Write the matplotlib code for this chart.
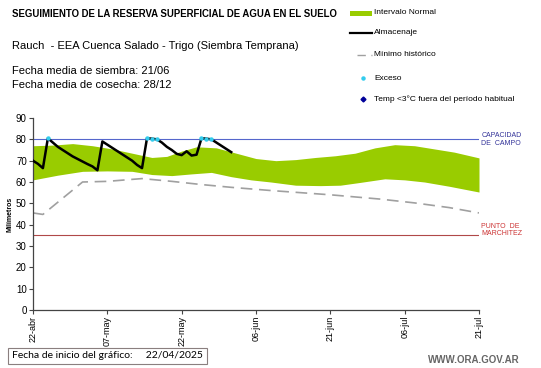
import numpy as np
import matplotlib.pyplot as plt
from matplotlib.lines import Line2D
from matplotlib.patches import Rectangle

plt.rcParams['font.family'] = ['Liberation Sans', 'DejaVu Sans']

# days counted from 22/04/2025
tick_days = [0, 15, 30, 45, 60, 75, 90]
tick_labels = ['22-abr', '07-may', '22-may', '06-jun', '21-jun', '06-jul', '21-jul']

# Almacenaje (daily)
alm_days = list(range(0, 41))
alm_vals = [70, 68.5, 66.5, 80.5, 78.5, 76.5, 75, 73.5, 72, 70.8,
            69.6, 68.4, 67.3, 65.5, 79, 77.5, 76, 74.5, 73, 71.5,
            70, 68, 66.5, 80.5, 80.3, 80, 78.5, 76.5, 75, 73.2,
            72.6, 74.4, 72.4, 72.8, 80.5, 80.3, 80, 78.5, 77, 75.5, 74]

# Exceso
exc_days = [3, 23, 24, 25, 34, 35, 36]
exc_vals = [80.5, 80.5, 80.3, 80.2, 80.5, 80.3, 80.2]

# Intervalo normal
band_days_up = [0, 4, 8, 12, 16, 20, 24, 27, 30, 33, 37, 41, 45, 49, 53, 57,
                61, 65, 69, 73, 77, 81, 85, 90]
band_up = [77, 77.3, 78, 77, 75.5, 73.5, 71.5, 72, 74.5, 76.5, 76, 73.5, 71,
           70, 70.5, 71.5, 72.3, 73.5, 76, 77.5, 77, 75.5, 74, 71.3]
band_days_lo = [0, 5, 10, 15, 20, 24, 28, 32, 36, 40, 44, 48, 53, 58, 62, 66,
                71, 75, 79, 84, 90]
band_lo = [61, 63.2, 65, 65.2, 65, 63.5, 63, 63.8, 64.5, 62.5, 61, 60, 58.5,
           58.3, 58.5, 59.8, 61.5, 61, 60, 58, 55.3]

# Minimo historico
min_days = [0, 2, 10, 15, 22, 28, 34, 40, 48, 60, 70, 77, 84, 90]
min_vals = [45.5, 44.8, 60, 60.3, 61.6, 60.3, 58.8, 57.5, 56, 54, 52, 50.2, 48, 45.5]

cap_campo = 80
marchitez = 35

W, H = 541, 368
fig = plt.figure(figsize=(W / 100, H / 100), dpi=100)
ax = fig.add_axes([33 / W, 1 - 310 / H, (479 - 33) / W, (310 - 118) / H])

d = np.arange(0, 91)
up = np.interp(d, band_days_up, band_up)
lo = np.interp(d, band_days_lo, band_lo)
ax.fill_between(d, lo, up, color='#99cc00', lw=0, zorder=1)
ax.plot(min_days, min_vals, color='#a0a0a0', lw=1.2, dashes=(7, 4), zorder=2)
ax.axhline(cap_campo, color='#5566cc', lw=0.8, zorder=2)
ax.axhline(marchitez, color='#b04848', lw=0.8, zorder=2)
ax.plot(alm_days, alm_vals, color='black', lw=1.8, zorder=3)
ax.plot(exc_days, exc_vals, ls='none', marker='o', ms=2.2, color='#33ccee', zorder=4)

ax.set_xlim(0, 90)
ax.set_ylim(0, 90)
ax.set_yticks(range(0, 91, 10))
ax.set_xticks(tick_days)
ax.set_xticklabels(tick_labels, rotation=90)
ax.tick_params(axis='y', labelsize=7, length=3, width=0.8, color='#444444', pad=1.5)
ax.tick_params(axis='x', labelsize=6.5, length=3, width=0.8, color='#444444', pad=1)
for s in ['top', 'right']:
    ax.spines[s].set_visible(False)
for s in ['left', 'bottom']:
    ax.spines[s].set_color('#444444')
    ax.spines[s].set_linewidth(0.9)
ax.set_ylabel('Milímetros', fontsize=5, fontweight='bold', labelpad=2)

ax.text(1.005, 80, 'CAPACIDAD\nDE  CAMPO', transform=ax.get_yaxis_transform(),
        color='#333399', fontsize=5, va='center', ha='left', linespacing=1.1)
ax.text(1.005, 37.5, 'PUNTO  DE\nMARCHITEZ', transform=ax.get_yaxis_transform(),
        color='#cc3333', fontsize=5, va='center', ha='left', linespacing=1.1)


def fx(x):
    return x / W


def fy(y):
    return 1 - y / H


fig.text(fx(12), fy(14), 'SEGUIMIENTO DE LA RESERVA SUPERFICIAL DE AGUA EN EL SUELO',
         fontsize=6.9, fontweight='bold', va='center')
fig.text(fx(12), fy(46), 'Rauch  - EEA Cuenca Salado - Trigo (Siembra Temprana)',
         fontsize=8, va='center')
fig.text(fx(12), fy(71), 'Fecha media de siembra: 21/06', fontsize=8, va='center')
fig.text(fx(12), fy(85), 'Fecha media de cosecha: 28/12', fontsize=8, va='center')

# legend
fig.add_artist(Rectangle((fx(350), fy(15.5)), fx(22), 4 / H, transform=fig.transFigure,
                         color='#99cc00', lw=0))
fig.add_artist(Line2D([fx(350), fx(372)], [fy(33), fy(33)], transform=fig.transFigure,
                      color='black', lw=1.6))
fig.add_artist(Line2D([fx(357), fx(372)], [fy(55), fy(55)], transform=fig.transFigure,
                      color='#a0a0a0', lw=1.0, dashes=(6, 4)))
fig.add_artist(Line2D([fx(363)], [fy(78)], transform=fig.transFigure, ls='none',
                      marker='o', ms=2.2, color='#33ccee'))
fig.add_artist(Line2D([fx(363)], [fy(99)], transform=fig.transFigure, ls='none',
                      marker='D', ms=2.5, color='#000099'))
leg_items = [(13, 'Intervalo Normal'), (33, 'Almacenaje'), (55, 'Mínimo histórico'),
             (78, 'Exceso'), (99, 'Temp <3°C fuera del período habitual')]
for yy, txt in leg_items:
    fig.text(fx(374), fy(yy), txt, fontsize=6, va='center')

# bottom notes
fig.text(fx(12), fy(356), 'Fecha de inicio del gráfico:     22/04/2025', fontsize=7.5,
         family=['Lato', 'DejaVu Sans'], va='center',
         bbox=dict(boxstyle='square,pad=0.35', fc='white', ec='#8a7f7f', lw=0.8))
fig.text(fx(520), fy(360), 'WWW.ORA.GOV.AR', fontsize=7, color='#666666',
         fontweight='bold', ha='right', va='center')

fig.savefig('out.png', dpi=100)
